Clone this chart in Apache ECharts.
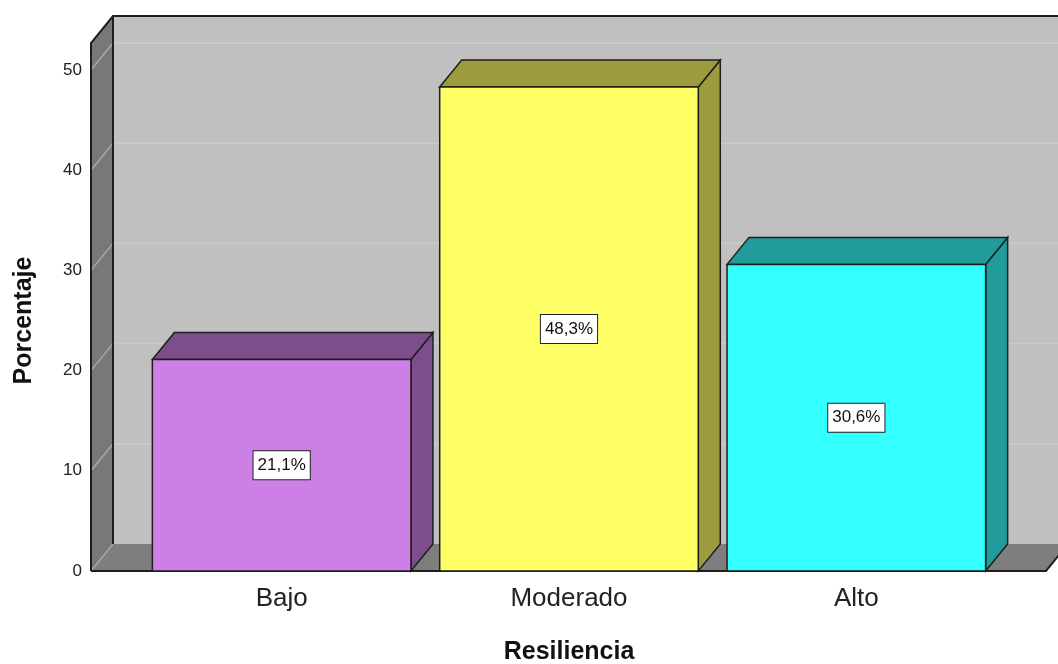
<!DOCTYPE html>
<html>
<head>
<meta charset="utf-8">
<script src="https://cdn.jsdelivr.net/npm/echarts@6/dist/echarts.min.js"></script>
<style>
  html, body { margin: 0; padding: 0; background: #fff; }
  #chart { width: 1058px; height: 664px; }
</style>
</head>
<body>
<div id="chart"></div>
<script>
  // data
  const categories = ['Bajo', 'Moderado', 'Alto'];
  const percentages = [21.1, 48.3, 30.6];
  const percentLabels = ['21,1%', '48,3%', '30,6%'];
  const yTicks = [0, 10, 20, 30, 40, 50];

  const frontColors = ['#cc80e6', '#ffff66', '#33ffff'];
  const sideColors = ['#7c4e8c', '#9c9c3e', '#209c9c'];

  const DX = 22, DY = -27;     // depth offset of the 3D box
  const PAD_L = 47, PAD_R = 46; // frame extends beyond the category band
  const FONT = '"Liberation Sans", Arial, sans-serif';

  const chart = echarts.init(document.getElementById('chart'));

  // walls, floor and grid lines
  function renderFrame(params, api) {
    const cs = params.coordSys;
    const left = cs.x - PAD_L;
    const right = cs.x + cs.width + PAD_R;
    const base = api.coord([0, 0])[1];
    const top = api.coord([0, yTicks[yTicks.length - 1]])[1] + DY;
    const children = [];
    const edge = {fill: 'none', stroke: '#1e1e1e', lineWidth: 2};

    children.push({
      type: 'rect',
      shape: {x: left + DX, y: top + DY, width: right - left, height: base - top},
      style: {fill: '#c0c0c0'}
    });
    children.push({
      type: 'polygon',
      shape: {points: [[left, top], [left + DX, top + DY], [left + DX, base + DY], [left, base]]},
      style: {fill: '#787878'}
    });
    children.push({
      type: 'polygon',
      shape: {points: [[left, base], [left + DX, base + DY], [right + DX, base + DY], [right, base]]},
      style: {fill: '#7e7e7e'}
    });

    yTicks.forEach(function (v) {
      const y = api.coord([0, v])[1];
      if (v > 0) {
        children.push({
          type: 'line',
          shape: {x1: left + DX, y1: y + DY, x2: right + DX, y2: y + DY},
          style: {fill: 'none', stroke: '#cacaca', lineWidth: 2}
        });
      }
      children.push({
        type: 'line',
        shape: {x1: left, y1: y, x2: left + DX, y2: y + DY},
        style: {fill: 'none', stroke: '#a8a8a8', lineWidth: 1.5}
      });
    });

    // outlines
    children.push({
      type: 'polyline',
      shape: {points: [[left, base], [left, top], [left + DX, top + DY], [right + DX, top + DY]]},
      style: edge
    });
    children.push({
      type: 'line',
      shape: {x1: left + DX, y1: top + DY, x2: left + DX, y2: base + DY},
      style: edge
    });
    children.push({
      type: 'polyline',
      shape: {points: [[left, base], [right, base], [right + DX, base + DY]]},
      style: edge
    });

    return {type: 'group', children: children};
  }

  // one 3D bar per category
  function renderBar(params, api) {
    const idx = api.value(0);
    const val = api.value(1);
    const p0 = api.coord([idx, 0]);
    const p1 = api.coord([idx, val]);
    const w = api.size([1, 0])[0] * 0.9;
    const x0 = p0[0] - w / 2;
    const x1 = x0 + w;
    const yTop = p1[1];
    const yBase = p0[1];
    const line = {stroke: '#1e1e1e', lineWidth: 1.5};

    return {
      type: 'group',
      children: [
        {
          type: 'polygon',
          shape: {points: [[x1, yTop], [x1 + DX, yTop + DY], [x1 + DX, yBase + DY], [x1, yBase]]},
          style: Object.assign({fill: sideColors[idx]}, line)
        },
        {
          type: 'polygon',
          shape: {points: [[x0, yTop], [x0 + DX, yTop + DY], [x1 + DX, yTop + DY], [x1, yTop]]},
          style: Object.assign({fill: sideColors[idx]}, line)
        },
        {
          type: 'rect',
          shape: {x: x0, y: yTop, width: w, height: yBase - yTop},
          style: Object.assign({fill: frontColors[idx]}, line)
        },
        {
          type: 'text',
          x: p0[0],
          y: (yTop + yBase) / 2,
          style: {
            text: percentLabels[idx],
            fill: '#111',
            font: '17px ' + FONT,
            align: 'center',
            verticalAlign: 'middle',
            backgroundColor: '#fff',
            borderColor: '#222',
            borderWidth: 1,
            padding: [6, 4, 5, 4]
          }
        }
      ]
    };
  }

  chart.setOption({
    animation: false,
    grid: {left: 138, top: 70, width: 862, bottom: 93, outerBoundsMode: 'none', containLabel: false},
    xAxis: {
      type: 'category',
      data: categories,
      name: 'Resiliencia',
      nameLocation: 'middle',
      nameGap: 69,
      nameTextStyle: {fontSize: 25, fontWeight: 'bold', color: '#111', fontFamily: FONT},
      axisLine: {show: false},
      axisTick: {show: false},
      axisLabel: {fontSize: 26, color: '#222', margin: 15, fontFamily: FONT}
    },
    yAxis: {
      type: 'value',
      min: 0,
      max: 50,
      interval: 10,
      offset: 47,
      name: 'Porcentaje',
      nameLocation: 'middle',
      nameRotate: 90,
      nameGap: 54,
      nameTextStyle: {fontSize: 25, fontWeight: 'bold', color: '#111', fontFamily: FONT},
      axisLine: {show: false},
      axisTick: {show: false},
      splitLine: {show: false},
      axisLabel: {fontSize: 17, color: '#222', margin: 9, fontFamily: FONT}
    },
    series: [
      {
        type: 'custom',
        renderItem: renderFrame,
        data: [[0, 0]],
        encode: {x: 0, y: 1},
        silent: true,
        z: 1
      },
      {
        type: 'custom',
        renderItem: renderBar,
        data: categories.map(function (c, i) { return [i, percentages[i]]; }),
        encode: {x: 0, y: 1},
        z: 2
      }
    ]
  });
</script>
</body>
</html>
